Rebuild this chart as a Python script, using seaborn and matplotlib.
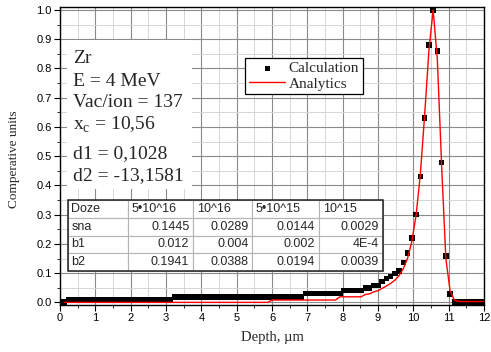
import numpy as np
import pandas as pd
import matplotlib
matplotlib.use("Agg")
import matplotlib.pyplot as plt
from matplotlib.patches import Rectangle
from matplotlib.ticker import MultipleLocator
import seaborn as sns

# --- dados ---
depth = [
    0.12, 0.24, 0.36, 0.48, 0.60, 0.72, 0.84, 0.96, 1.08, 1.20,
    1.32, 1.44, 1.56, 1.68, 1.80, 1.92, 2.04, 2.16, 2.28, 2.40,
    2.52, 2.64, 2.76, 2.88, 3.00, 3.12, 3.24, 3.36, 3.48, 3.60,
    3.72, 3.84, 3.96, 4.08, 4.20, 4.32, 4.44, 4.56, 4.68, 4.80,
    4.92, 5.04, 5.16, 5.28, 5.40, 5.52, 5.64, 5.76, 5.88, 6.00,
    6.12, 6.24, 6.36, 6.48, 6.60, 6.72, 6.84, 6.96, 7.08, 7.20,
    7.32, 7.44, 7.56, 7.68, 7.80, 7.92, 8.04, 8.16, 8.28, 8.40,
    8.52, 8.64, 8.76, 8.88, 9.00, 9.12, 9.24, 9.36, 9.48, 9.60,
    9.72, 9.84, 9.96, 10.08, 10.20, 10.32, 10.44, 10.56, 10.68, 10.80,
    10.92, 11.04, 11.16, 11.28, 11.40, 11.52, 11.64, 11.76, 11.88, 12.00,
]

calculation = [
    0.002, 0.008, 0.008, 0.008, 0.008, 0.008, 0.008, 0.008, 0.008, 0.008,
    0.008, 0.008, 0.008, 0.008, 0.008, 0.008, 0.008, 0.008, 0.008, 0.008,
    0.008, 0.008, 0.008, 0.008, 0.008, 0.008, 0.019, 0.019, 0.019, 0.019,
    0.019, 0.019, 0.019, 0.019, 0.019, 0.019, 0.019, 0.019, 0.019, 0.019,
    0.019, 0.019, 0.019, 0.019, 0.019, 0.019, 0.019, 0.019, 0.019, 0.019,
    0.019, 0.019, 0.019, 0.019, 0.019, 0.019, 0.019, 0.030, 0.030, 0.030,
    0.030, 0.030, 0.030, 0.030, 0.030, 0.030, 0.041, 0.041, 0.041, 0.041,
    0.041, 0.049, 0.049, 0.058, 0.058, 0.072, 0.081, 0.089, 0.098, 0.108,
    0.137, 0.168, 0.220, 0.300, 0.430, 0.630, 0.880, 1.000, 0.860, 0.478,
    0.158, 0.028, 0.002, 0.002, 0.002, 0.002, 0.002, 0.002, 0.002, 0.002,
]

analytics = [
    0.0, 0.0, 0.0, 0.0, 0.0, 0.0, 0.0, 0.0, 0.0, 0.0,
    0.0, 0.0, 0.0, 0.0, 0.0, 0.0, 0.0, 0.0, 0.0, 0.0,
    0.0, 0.0, 0.0, 0.0, 0.0, 0.0, 0.0, 0.0, 0.0, 0.0,
    0.0, 0.0, 0.0, 0.0, 0.0, 0.0, 0.0, 0.0, 0.0, 0.0,
    0.0, 0.0, 0.0, 0.0, 0.0, 0.0, 0.0, 0.0, 0.0, 0.008,
    0.008, 0.008, 0.008, 0.008, 0.008, 0.008, 0.008, 0.008, 0.008, 0.008,
    0.008, 0.008, 0.008, 0.008, 0.008, 0.019, 0.019, 0.019, 0.019, 0.019,
    0.019, 0.027, 0.029, 0.036, 0.040, 0.048, 0.056, 0.065, 0.076, 0.092,
    0.116, 0.152, 0.210, 0.300, 0.440, 0.640, 0.860, 1.000, 0.830, 0.470,
    0.150, 0.040, 0.008, 0.003, 0.003, 0.003, 0.003, 0.003, 0.003, 0.003,
]

info_lines = ["Zr", "E = 4 MeV", "Vac/ion = 137",
              r"x$_\mathregular{c}$ = 10,56", "d1 = 0,1028", "d2 = -13,1581"]

table_header = ["Doze", "5•10^16", "10^16", "5•10^15", "10^15"]
row_names = ["sna", "b1", "b2"]
sna = ["0.1445", "0.0289", "0.0144", "0.0029"]
b1 = ["0.012", "0.004", "0.002", "4E-4"]
b2 = ["0.1941", "0.0388", "0.0194", "0.0039"]

df = pd.DataFrame({"depth": depth, "calc": calculation, "anal": analytics})

sns.set_style("ticks")
plt.rcParams['font.family'] = ['Liberation Sans', 'DejaVu Sans']
SERIF = ['Liberation Serif', 'DejaVu Serif']

fig = plt.figure(figsize=(4.91, 3.52), dpi=100)
ax = fig.add_axes([60 / 491, 47 / 352, 424 / 491, 297.7 / 352])

sns.scatterplot(data=df, x="depth", y="calc", ax=ax, marker="s", s=16,
                color="black", edgecolor="none", label="Calculation", zorder=3)
sns.lineplot(data=df, x="depth", y="anal", ax=ax, color="red",
             linewidth=1.0, label="Analytics", zorder=4)

ax.set_xlim(0, 12)
ax.set_ylim(-0.009, 1.009)
ax.xaxis.set_major_locator(MultipleLocator(1))
ax.xaxis.set_minor_locator(MultipleLocator(0.5))
ax.yaxis.set_major_locator(MultipleLocator(0.1))
ax.yaxis.set_minor_locator(MultipleLocator(0.05))
ax.yaxis.set_major_formatter(matplotlib.ticker.FormatStrFormatter('%.1f'))

ax.grid(which="major", color="#8a8a8a", linewidth=0.8)
ax.grid(which="minor", color="#d6d6d6", linewidth=0.7)
ax.set_axisbelow(True)

ax.tick_params(which="major", direction="out", length=4, width=0.8,
               labelsize=8, colors="black", pad=2)
ax.tick_params(which="minor", direction="out", length=2.5, width=0.7)
for sp in ax.spines.values():
    sp.set_linewidth(1.0)
    sp.set_color("black")

ax.set_xlabel("Depth, µm", family=SERIF, fontsize=10.5)
ax.set_ylabel("Comperative units", family=SERIF, fontsize=9.5)
ax.xaxis.set_label_coords(0.501, -0.087)
ax.yaxis.set_label_coords(-0.094, 0.49)

leg = ax.legend(loc="upper left", bbox_to_anchor=(0.436, 0.83),
                borderaxespad=0, fancybox=False, framealpha=1,
                edgecolor="black", prop={"family": SERIF, "size": 11},
                handlelength=2.4, handletextpad=0.2, labelspacing=0.1,
                borderpad=0.25, markerscale=0.9)
leg.get_frame().set_linewidth(0.9)

# bloco de texto com fundo branco
ax.add_patch(Rectangle((0.0165, 0.39), 0.295, 0.5, transform=ax.transAxes,
                       facecolor="white", edgecolor="none", zorder=2))
ys = [0.814, 0.7356, 0.666, 0.588, 0.493, 0.42]
for txt, y in zip(info_lines, ys):
    ax.text(0.030, y, txt, transform=ax.transAxes, family=SERIF,
            fontsize=14, va="baseline", ha="left", zorder=5)

# tabela
cells = [table_header] + [[n] + v for n, v in zip(row_names, [sna, b1, b2])]
tbl = ax.table(cellText=cells, colWidths=[60, 65.6, 58.7, 67.3, 63.4],
               bbox=[0.018, 0.114, 0.743, 0.2385], zorder=6)
tbl.auto_set_font_size(False)
for (r, c), cell in tbl.get_celld().items():
    cell.set_edgecolor("#b4b4b4")
    cell.set_linewidth(0.8)
    cell.set_facecolor("white")
    t = cell.get_text()
    t.set_fontsize(9)
    if r == 0 or c == 0:
        cell._loc = "left"
        t.set_ha("left")
    else:
        cell._loc = "right"
        t.set_ha("right")
    cell.PAD = 0.06
ax.add_patch(Rectangle((0.018, 0.114), 0.743, 0.2385, transform=ax.transAxes,
                       fill=False, edgecolor="#222222", linewidth=1.1, zorder=7))

fig.savefig("out.png", dpi=100)
